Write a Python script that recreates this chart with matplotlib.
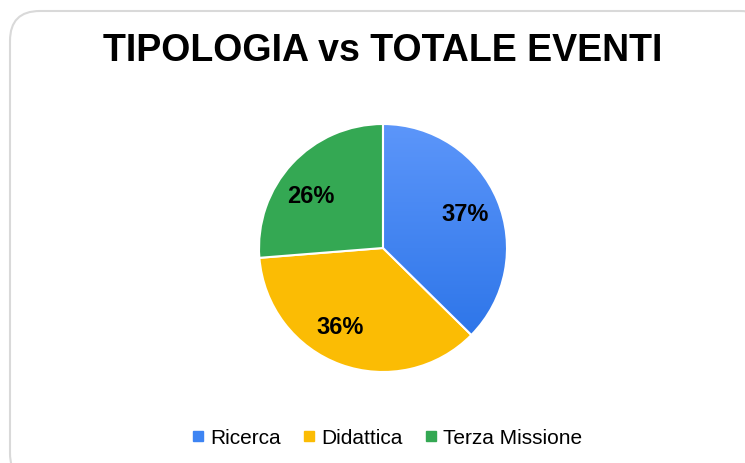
import numpy as np
import matplotlib.pyplot as plt
from matplotlib.patches import FancyBboxPatch
from matplotlib.lines import Line2D

plt.rcParams['font.family'] = ['Liberation Sans', 'DejaVu Sans']

# data
categories = ["Ricerca", "Didattica", "Terza Missione"]
values = [37, 36, 26]
colors = ["#3d84f3", "#fbbc04", "#34a853"]
title = "TIPOLOGIA vs TOTALE EVENTI"

# small angular nudges (deg) of the percent labels, as in the original
label_shift = [0, -9, 7]

fig = plt.figure(figsize=(7.45, 4.64), dpi=100)

# rounded card border (runs off the right and bottom edges)
card = FancyBboxPatch((10 / 745, -20 / 464), 760 / 745, (464 - 12 + 20) / 464,
                      boxstyle="round,pad=0,rounding_size=0.04",
                      transform=fig.transFigure, facecolor="white",
                      edgecolor="#d9d9d9", linewidth=1.5, mutation_aspect=745 / 464,
                      zorder=-10)
fig.patches.append(card)

fig.text(383 / 745, 1 - 51 / 464, title, ha="center", va="center",
         fontsize=27, fontweight="bold", color="black")

# pie axes: center (383, 249), radius 124 px
r = 124
ax = fig.add_axes([(383 - r) / 745, 1 - (249 + r) / 464, 2 * r / 745, 2 * r / 464])
ax.patch.set_visible(False)
wedges, texts, autotexts = ax.pie(values, colors=colors, startangle=90, counterclock=False,
                                  autopct='%.0f%%', pctdistance=0.72, radius=1.0,
                                  wedgeprops=dict(edgecolor="white", linewidth=1.5),
                                  textprops=dict(fontsize=17, fontweight="bold", color="black"))

# move labels a little along the circle
for w, t, s in zip(wedges, autotexts, label_shift):
    ang = np.deg2rad((w.theta1 + w.theta2) / 2 + s)
    t.set_position((0.72 * np.cos(ang), 0.72 * np.sin(ang)))

# gradient on blue wedge (lighter top, darker bottom)
grad = np.linspace(0, 1, 256).reshape(-1, 1)
top = np.array([0x5c, 0x96, 0xfa]) / 255
bot = np.array([0x26, 0x70, 0xe6]) / 255
img = top * (1 - grad[..., None]) + bot * grad[..., None]
im = ax.imshow(img, extent=[-1, 1, -1, 1], origin="upper", zorder=2, aspect="auto")
im.set_clip_path(wedges[0])
wedges[0].set_zorder(3)
wedges[0].set_facecolor("none")
for t in autotexts:
    t.set_zorder(5)
ax.set_xlim(-1.0, 1.0)
ax.set_ylim(-1.0, 1.0)
ax.axis("off")

handles = [Line2D([0], [0], marker="s", linestyle="None", markersize=7,
                  markerfacecolor=c, markeredgecolor=c) for c in colors]
fig.legend(handles, categories, loc="center", bbox_to_anchor=(387 / 745, 1 - 439 / 464),
           ncol=3, frameon=False, fontsize=15, handlelength=0.6, handletextpad=0.3,
           columnspacing=1.05)

plt.savefig("out.png", dpi=100)
